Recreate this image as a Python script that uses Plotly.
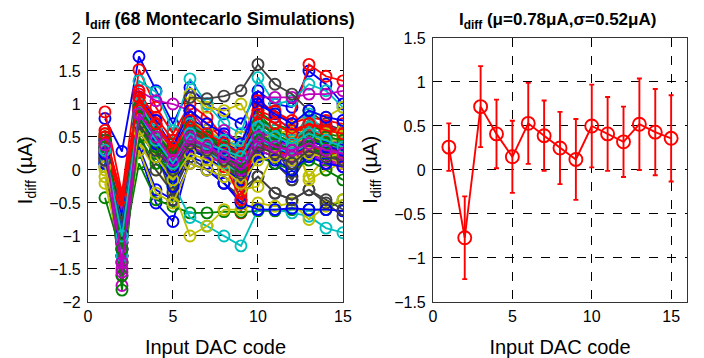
import plotly.graph_objects as go

codes = list(range(1, 16))

# 68 Monte Carlo runs (I_diff in uA vs input DAC code 1..15)
run_00 = [0.78, 0.28, 1.72, 1.2, 0.7, 1.25, 1.0, 0.85, 0.7, 1.2, 1.0, 0.95, 1.5, 1.3, 1.0]
run_01 = [0.55, -0.6, 1.0, 0.6, 0.3, 0.8, 0.5, 0.4, 0.3, 0.85, 0.6, 0.5, 0.7, 0.6, 0.55]
run_02 = [0.88, -0.35, 1.52, 0.95, 0.55, 1.0, 0.8, 0.5, -0.65, 1.05, 0.88, 0.75, 1.6, 1.42, 1.35]
run_03 = [0.4, -0.95, 1.35, 1.18, 0.6, 1.38, 1.0, 0.7, 0.55, 1.4, 1.0, 1.05, 1.3, 1.2, 0.95]
run_04 = [0.3, -0.5, 1.2, 1.05, 1.0, 0.9, 0.6, 0.6, 0.4, 1.1, 1.1, 1.1, 1.15, 1.15, 1.2]
run_05 = [0.1, -0.8, 0.8, 0.4, 0.2, 1.15, 0.95, 0.9, 1.0, 0.5, 0.6, 0.65, 0.9, 0.8, 0.95]
run_06 = [0.5, -0.4, 1.1, 0.6, 0.3, 1.1, 1.08, 1.12, 1.2, 1.6, 1.3, 1.15, 0.9, 0.7, 0.6]
run_07 = [0.2, -1.1, 0.3, -0.5, -0.78, 0.2, 0.1, -0.2, -0.45, 0.3, 0.2, 0.1, 0.3, 0.25, 0.2]
run_08 = [-0.42, -1.3, 0.1, -0.45, -0.55, -0.65, -0.65, -0.63, -0.64, -0.62, -0.62, -0.6, -0.6, -0.6, -0.45]
run_09 = [0.35, -0.4, 1.1, 0.7, 0.35, 0.65, 0.45, 0.3, -0.3, 0.7, 0.6, 0.45, 0.75, 0.65, 0.55]
run_10 = [0.15, -1.0, 0.7, 0.3, -0.2, -0.72, -0.85, -1.0, -1.15, -0.6, -0.6, -0.65, -0.7, -0.88, -0.95]
run_11 = [0.2, -1.75, 0.6, 0.2, -0.1, 0.3, 0.2, 0.1, -0.2, 0.35, 0.3, 0.1, 0.35, 0.15, 0.05]
run_12 = [-0.1, -1.2, 0.4, 0.0, -0.3, -1.0, -0.85, -0.6, -0.6, -0.5, -0.55, -0.5, -0.75, -0.55, -0.45]
run_13 = [0.05, -1.3, 0.5, 0.0, -0.35, 0.2, 0.0, -0.2, -0.4, -0.1, -0.35, -0.45, -0.3, -0.5, -0.7]
run_14 = [0.1, -1.2, 0.35, -0.3, -0.45, 0.1, 0.0, -0.2, -0.5, -0.6, -0.6, -0.58, -0.6, -0.6, -0.62]
run_15 = [0.3, -1.82, 0.7, 0.3, 0.0, 0.4, 0.3, 0.1, -0.1, 0.3, 0.2, 0.15, 0.3, 0.25, 0.2]
run_16 = [0.6, -0.45, 1.2, 0.75, 0.3, 0.7, 0.5, 0.3, 0.2, 1.0, 0.9, 0.7, 0.8, 0.75, 0.7]
run_17 = [0.3, -0.85, 0.9, 0.55, -0.25, 0.8, 0.6, 0.4, 0.3, 0.7, 0.55, 0.1, 0.8, 0.5, 0.35]
run_18 = [0.4, -1.6, 0.75, 0.45, 0.2, 0.5, 0.35, 0.2, 0.1, 0.55, 0.35, 0.4, 0.25, 0.15, 0.1]
run_19 = [0.2, -0.7, 0.9, 0.5, 0.1, 0.6, 0.5, 0.35, 0.5, 0.3, 0.55, 0.6, 0.55, 0.5, 0.4]
run_20 = [0.25, -0.9, 0.8, 0.3, -0.45, 0.4, 0.3, 0.2, -0.3, -0.1, -0.35, -0.45, -0.3, -0.45, -0.6]
run_21 = [0.3, -0.6, 1.0, 0.6, 0.3, 0.8, 0.6, 0.4, 0.2, 1.1, 0.8, 0.6, 0.5, 0.65, 0.6]
run_22 = [0.5, -1.4, 0.9, 0.6, 0.4, 0.6, 0.4, 0.25, 0.1, 0.9, 0.7, 0.6, 0.65, 0.6, 0.55]
run_23 = [0.45, -0.42, 1.0, 0.6, 0.25, 0.5, 0.4, 0.3, 0.35, 0.6, 0.45, 0.35, 0.5, 0.4, 0.3]
run_24 = [0.3, -1.2, 0.75, 0.4, 0.05, 0.55, 0.3, 0.15, 0.05, 0.6, 0.5, 0.45, 0.85, 0.55, 0.3]
run_25 = [0.35, -1.5, 1.0, 0.4, 0.05, 0.45, 0.3, 0.35, 0.15, 0.5, 0.35, 0.25, 0.4, 0.3, 0.25]
run_26 = [0.0, -1.0, 0.6, 0.3, -0.05, 0.5, 0.35, 0.2, -0.05, 0.35, 0.4, 0.5, -0.15, 0.0, 0.1]
run_27 = [0.1, -0.8, 0.9, 0.5, 0.1, 0.35, 0.2, 0.4, 0.05, 0.25, 0.1, -0.15, 0.25, 0.3, 0.3]
run_28 = [0.2, -1.0, 0.9, 0.45, 0.1, 0.7, 0.5, 0.3, 0.2, 0.25, 0.1, -0.1, 0.35, 0.2, 0.15]
run_29 = [0.4, -1.1, 0.85, 0.4, 0.2, 0.55, 0.4, 0.25, 0.0, 0.8, 0.6, 0.45, 0.6, 0.55, 0.5]
run_30 = [0.5, -0.4, 1.15, 0.8, 0.45, 0.9, 0.7, 0.45, -0.35, 0.9, 0.8, 0.6, 0.7, 0.65, 0.6]
run_31 = [0.2, -0.9, 0.7, 0.45, 0.1, 0.65, 0.5, 0.2, 0.1, 0.55, 0.45, 0.3, 0.5, 0.45, 0.35]
run_32 = [0.45, -1.3, 0.9, 0.6, 0.3, 0.6, 0.4, 0.25, 0.1, 0.4, 0.3, 0.2, 0.35, 0.2, 0.1]
run_33 = [-0.2, -1.3, 0.3, -0.35, -0.5, 0.1, 0.0, -0.1, -0.3, -0.25, 0.3, 0.4, -0.1, 0.2, 0.1]
run_34 = [0.3, -0.7, 0.8, 0.35, 0.0, 0.5, 0.45, 0.35, 0.2, 0.3, 0.4, -0.15, 0.4, 0.3, 0.25]
run_35 = [0.15, -0.75, 0.7, 0.3, -0.05, 0.6, 0.55, 0.4, 0.3, 0.65, 0.5, 0.35, 0.55, 0.45, 0.4]
run_36 = [0.25, -1.6, 0.5, 0.1, -0.15, 0.3, 0.2, 0.0, -0.2, 0.2, 0.1, 0.0, 0.15, 0.0, -0.15]
run_37 = [0.3, -0.35, 0.95, 0.55, 0.2, 0.55, 0.45, 0.15, -0.1, 0.5, 0.35, 0.3, 0.45, 0.35, 0.25]
run_38 = [0.1, -0.95, 0.8, 0.4, -0.1, 0.45, 0.3, 0.2, 0.0, 0.6, 0.35, 0.25, 0.5, 0.35, 0.3]
run_39 = [0.2, -1.1, 0.8, 0.45, 0.1, 0.4, 0.3, 0.15, 0.05, 0.45, 0.3, 0.2, 0.35, 0.3, 0.2]
run_40 = [0.35, -0.6, 1.0, 0.6, 0.25, 0.75, 0.6, 0.45, 0.3, 0.4, 0.45, 0.5, 0.6, 0.55, 0.6]
run_41 = [0.2, -0.55, 0.7, 0.45, 0.15, 0.55, 0.35, 0.15, -0.1, 0.5, 0.4, 0.3, 0.45, 0.4, 0.35]
run_42 = [0.45, -0.85, 1.1, 0.75, 0.35, 0.9, 0.7, 0.55, 0.4, 1.0, 0.85, 0.7, 0.9, 0.8, 0.75]
run_43 = [0.3, -1.4, 0.6, 0.2, -0.1, 0.35, 0.25, 0.1, -0.15, 0.45, 0.3, 0.2, 0.35, 0.25, 0.15]
run_44 = [0.4, -0.5, 1.05, 0.7, 0.35, 0.6, 0.5, 0.35, 0.0, 0.7, 0.55, 0.4, 0.6, 0.5, 0.45]
run_45 = [0.25, -1.05, 0.85, 0.5, 0.0, 0.5, 0.35, 0.25, 0.15, 0.5, 0.4, 0.3, 0.45, 0.4, 0.3]
run_46 = [0.3, -1.2, 0.95, 0.5, 0.15, 0.55, 0.4, 0.2, 0.1, 0.6, 0.45, 0.35, 0.5, 0.45, 0.4]
run_47 = [0.15, -0.85, 0.75, 0.35, -0.05, 0.35, 0.3, 0.15, 0.2, 0.35, 0.25, 0.35, 0.45, 0.4, 0.5]
run_48 = [0.25, -1.0, 0.85, 0.5, 0.05, 0.7, 0.5, 0.35, 0.25, 0.45, 0.35, 0.25, 0.55, 0.35, 0.3]
run_49 = [0.35, -1.3, 0.85, 0.3, 0.0, 0.5, 0.4, 0.25, 0.2, 0.45, 0.35, 0.2, 0.4, 0.3, 0.25]
run_50 = [0.2, -1.0, 0.65, 0.25, -0.1, 0.4, 0.3, 0.1, -0.05, 0.4, 0.3, 0.2, 0.3, 0.25, 0.2]
run_51 = [0.2, -0.38, 0.85, 0.5, 0.1, 0.4, 0.3, 0.05, -0.2, 0.4, 0.3, 0.2, 0.35, 0.3, 0.2]
run_52 = [0.35, -1.3, 1.0, 0.6, 0.2, 0.7, 0.55, 0.45, 0.35, 0.75, 0.6, 0.45, 0.65, 0.5, 0.4]
run_53 = [0.15, -0.65, 0.8, 0.35, 0.0, 0.35, 0.25, 0.1, -0.05, 0.3, 0.2, 0.15, 0.25, 0.1, 0.05]
run_54 = [0.25, -0.9, 0.8, 0.45, 0.15, 0.5, 0.4, 0.3, 0.1, 0.45, 0.55, 0.4, 0.5, 0.45, 0.45]
run_55 = [0.35, -0.75, 0.95, 0.55, 0.2, 0.6, 0.45, 0.25, 0.0, 0.55, 0.4, 0.3, 0.5, 0.4, 0.35]
run_56 = [0.1, -0.7, 0.6, 0.2, -0.25, 0.3, 0.2, 0.0, -0.15, 0.2, 0.15, 0.0, 0.2, 0.1, 0.05]
run_57 = [0.45, -0.9, 0.95, 0.55, 0.25, 0.65, 0.5, 0.35, 0.15, 0.7, 0.55, 0.4, 0.55, 0.5, 0.45]
run_58 = [0.3, -0.45, 0.9, 0.45, 0.1, 0.45, 0.3, 0.1, -0.45, 0.55, 0.4, 0.25, 0.45, 0.35, 0.3]
run_59 = [0.2, -0.8, 0.75, 0.4, 0.05, 0.45, 0.3, 0.1, -0.05, 0.45, 0.35, 0.25, 0.4, 0.3, 0.25]
run_60 = [0.25, -1.55, 0.7, 0.35, 0.05, 0.45, 0.35, 0.2, 0.0, 0.4, 0.25, 0.2, 0.3, 0.2, 0.15]
run_61 = [0.05, -0.95, 0.6, 0.2, -0.15, 0.25, 0.15, 0.0, -0.2, 0.15, 0.2, 0.15, 0.25, 0.2, 0.25]
run_62 = [0.15, -0.8, 0.7, 0.3, 0.0, 0.4, 0.3, 0.15, -0.05, 0.35, 0.25, 0.1, 0.3, 0.2, 0.15]
run_63 = [0.25, -0.95, 0.8, 0.4, 0.05, 0.55, 0.4, 0.25, 0.1, 0.55, 0.4, 0.3, 0.45, 0.35, 0.3]
run_64 = [0.35, -1.2, 0.8, 0.35, 0.1, 0.5, 0.35, 0.2, 0.05, 0.55, 0.4, 0.3, 0.45, 0.4, 0.35]
run_65 = [0.55, -0.42, 1.1, 0.7, 0.3, 0.75, 0.55, 0.4, 0.25, 0.85, 0.7, 0.55, 0.7, 0.6, 0.55]
run_66 = [0.3, -1.0, 0.85, 0.45, 0.1, 0.55, 0.4, 0.3, 0.2, 0.65, 0.5, 0.4, 0.55, 0.45, 0.35]
run_67 = [0.38, -1.4, 0.85, 0.5, 0.15, 0.5, 0.35, 0.2, 0.1, 0.5, 0.35, 0.3, 0.4, 0.3, 0.25]

runs = [run_00, run_01, run_02, run_03, run_04, run_05, run_06, run_07, run_08, run_09,
        run_10, run_11, run_12, run_13, run_14, run_15, run_16, run_17, run_18, run_19,
        run_20, run_21, run_22, run_23, run_24, run_25, run_26, run_27, run_28, run_29,
        run_30, run_31, run_32, run_33, run_34, run_35, run_36, run_37, run_38, run_39,
        run_40, run_41, run_42, run_43, run_44, run_45, run_46, run_47, run_48, run_49,
        run_50, run_51, run_52, run_53, run_54, run_55, run_56, run_57, run_58, run_59,
        run_60, run_61, run_62, run_63, run_64, run_65, run_66, run_67]

# Right panel: mean and standard deviation per code
mean_vals = [0.26, -0.77, 0.72, 0.41, 0.15, 0.53, 0.39, 0.25, 0.12, 0.50, 0.41, 0.32, 0.52, 0.43, 0.36]
std_vals = [0.27, 0.47, 0.46, 0.39, 0.41, 0.46, 0.40, 0.41, 0.46, 0.47, 0.42, 0.40, 0.52, 0.49, 0.49]

x_ticks = [0, 5, 10, 15]
y_ticks_left = [-2, -1.5, -1, -0.5, 0, 0.5, 1, 1.5, 2]
y_ticks_right = [-1.5, -1, -0.5, 0, 0.5, 1, 1.5]

palette = ["#0000ff", "#008000", "#ff0000", "#00bfbf", "#bf00bf", "#bfbf00", "#404040"]
FONT = "Liberation Sans, Arial, sans-serif"

fig = go.Figure()
for i, r in enumerate(runs):
    c = palette[i % len(palette)]
    fig.add_trace(go.Scatter(
        x=codes, y=r, mode="lines+markers", xaxis="x", yaxis="y",
        line=dict(color=c, width=1.8),
        marker=dict(symbol="circle-open", size=11, color=c, line=dict(width=1.9, color=c)),
        showlegend=False, hoverinfo="skip"))

fig.add_trace(go.Scatter(
    x=codes, y=mean_vals, mode="lines+markers", xaxis="x2", yaxis="y2",
    line=dict(color="#ff0000", width=1.9),
    marker=dict(symbol="circle-open", size=13, color="#ff0000", line=dict(width=1.9, color="#ff0000")),
    error_y=dict(type="data", array=std_vals, visible=True, color="#ff0000", thickness=1.9, width=2.5),
    showlegend=False))

axis_common = dict(
    showgrid=True, gridcolor="black", griddash="dash", gridwidth=1,
    showline=True, linecolor="#333333", linewidth=1, mirror=True,
    ticks="", zeroline=False,
    tickfont=dict(family=FONT, size=16, color="black"),
    automargin=False)

title_font = dict(family=FONT, size=20, color="black")

fig.update_layout(
    width=696, height=350,
    margin=dict(l=0, r=0, t=0, b=0),
    paper_bgcolor="white", plot_bgcolor="white",
    xaxis=dict(domain=[0.1149, 0.4813], range=[0, 15], tickvals=x_ticks, anchor="y",
               title=dict(text="Input DAC code", font=title_font, standoff=15),
               **axis_common),
    yaxis=dict(domain=[0.16, 0.9143], range=[-2, 2], tickvals=y_ticks_left, anchor="x",
               ticklabelstandoff=3, **axis_common),
    xaxis2=dict(domain=[0.6106, 0.9756], range=[0, 16], tickvals=x_ticks, anchor="y2",
                title=dict(text="Input DAC code", font=title_font, standoff=15),
                **axis_common),
    yaxis2=dict(domain=[0.16, 0.9143], range=[-1.5, 1.5], tickvals=y_ticks_right, anchor="x2",
                ticklabelstandoff=3, **axis_common),
    annotations=[
        dict(text="<b>I<sub>diff</sub> (68 Montecarlo Simulations)</b>", x=0.305, y=0.925,
             xref="paper", yref="paper", xanchor="center", yanchor="bottom", showarrow=False,
             font=dict(family=FONT, size=18, color="black")),
        dict(text="<b>I<sub>diff</sub> (μ=0.78μA,σ=0.52μA)</b>", x=0.79, y=0.925,
             xref="paper", yref="paper", xanchor="center", yanchor="bottom", showarrow=False,
             font=dict(family=FONT, size=17, color="black")),
        dict(text="I<sub>diff</sub> (µA)", x=0.026, y=0.537, textangle=-90,
             xref="paper", yref="paper", xanchor="center", yanchor="middle", showarrow=False,
             font=title_font),
        dict(text="I<sub>diff</sub> (µA)", x=0.521, y=0.537, textangle=-90,
             xref="paper", yref="paper", xanchor="center", yanchor="middle", showarrow=False,
             font=title_font),
    ],
)

fig.write_html("out.html")
